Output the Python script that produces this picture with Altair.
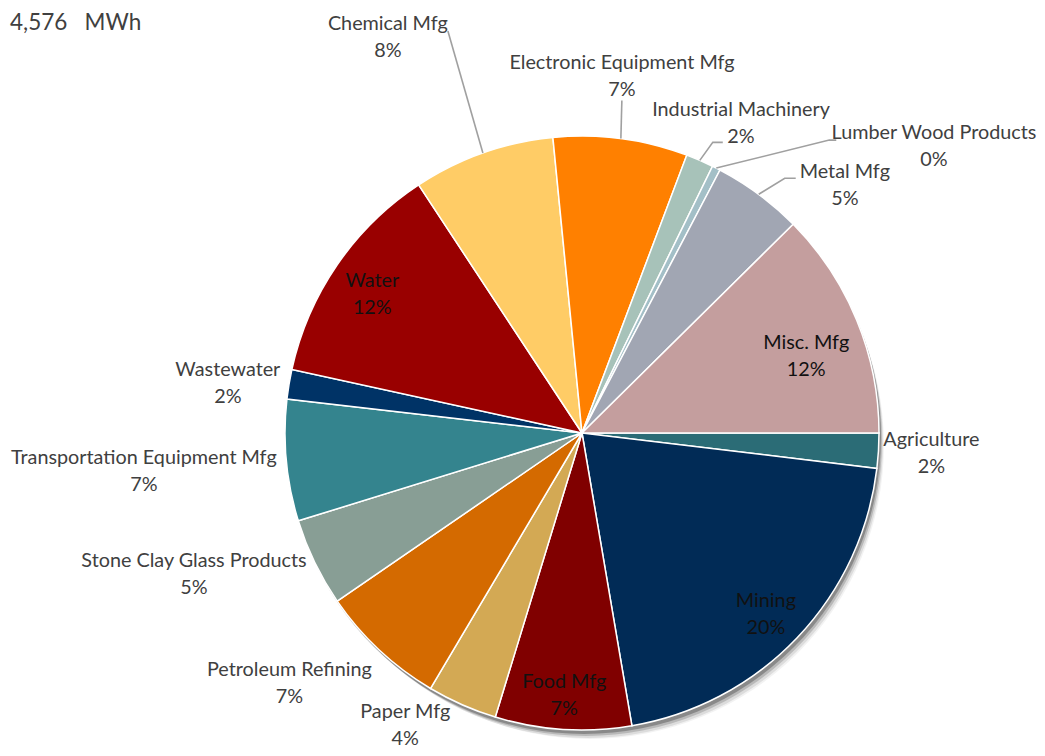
import math
import altair as alt
import pandas as pd

# ---------------- data ----------------
categories = [
    "Agriculture", "Mining", "Food Mfg", "Paper Mfg", "Petroleum Refining",
    "Stone Clay Glass Products", "Transportation Equipment Mfg", "Wastewater",
    "Water", "Chemical Mfg", "Electronic Equipment Mfg", "Industrial Machinery",
    "Lumber Wood Products", "Metal Mfg", "Misc. Mfg",
]
shares = [1.9, 20.4, 7.4, 3.8, 6.9, 4.8, 6.6, 1.6, 12.3, 7.7, 7.3, 1.5, 0.45, 4.9, 12.4]
pct_labels = ["2%", "20%", "7%", "4%", "7%", "5%", "7%", "2%", "12%", "8%", "7%", "2%", "0%", "5%", "12%"]
slice_colors = [
    "#2B6C76", "#012B56", "#800000", "#D3A954", "#D46A00",
    "#889E95", "#34848E", "#003366", "#990000", "#FFCC66",
    "#FF8000", "#A7C2B9", "#A3BFC7", "#A1A6B3", "#C49E9E",
]
title_text = "4,576\u00a0\u00a0\u00a0MWh"

# ---------------- layout / style ----------------
FONT = "Lato"
W, H = 900, 620
PAD = {"left": 124, "top": 115, "right": 5, "bottom": 5}
CX, CY = W / 2, H / 2
R = 297
total = sum(shares)
SHIFT = -13  # multi-line block: move up so the two lines straddle the anchor

# label placement: radius along the slice's mid angle, plus small nudges
label_style = {
    "Agriculture": (350, 0, -1),
    "Mining": (258, -3, 3),
    "Food Mfg": (263, -1, 0),
    "Paper Mfg": (346, -37, -25),
    "Petroleum Refining": (383, -31, -30),
    "Stone Clay Glass Products": (410, -19, -38),
    "Transportation Equipment Mfg": (440, 0, -3),
    "Wastewater": (357, -2, 9),
    "Water": (252, -2, 4),
    "Chemical Mfg": (438, -48, 17),
    "Electronic Equipment Mfg": (359, -7, -1),
    "Industrial Machinery": (348, 21, 9),
    "Lumber Wood Products": (418, 163, 86),
    "Metal Mfg": (356, 51, 38),
    "Misc. Mfg": (237, 5, 13),
}
inside = {"Mining", "Food Mfg", "Water", "Misc. Mfg"}
# leader lines: elbow offset from slice edge, then horizontal run
leaders = {
    "Chemical Mfg": (-35, -122, 0),
    "Electronic Equipment Mfg": (1, -38, 0),
    "Industrial Machinery": (13, -18, 10),
    "Lumber Wood Products": (113, -28, 7),
    "Metal Mfg": (26, -16, 11),
}

df = pd.DataFrame({
    "idx": list(range(len(categories))),
    "cat": categories,
    "share": shares,
    "label": [f"{c}\n{p}" for c, p in zip(categories, pct_labels)],
})

theta_scale = alt.Scale(domain=[0, total], range=[math.pi / 2, math.pi / 2 + 2 * math.pi])
theta_enc = alt.Theta("share:Q", stack=True, scale=theta_scale)
order_enc = alt.Order("idx:Q", sort="ascending")

# shadow (offset soft gray discs)
shadow_df = pd.DataFrame({"share": [total]})
shadows = []
for ox, oy, op, rr in [(2, 4, 0.25, R), (4, 7, 0.16, R - 1), (6, 10, 0.09, R - 2), (8, 12, 0.05, R - 3)]:
    shadows.append(
        alt.Chart(shadow_df).mark_arc(radius=rr, color="#000000", opacity=op)
        .encode(theta=theta_enc, x=alt.value(CX + ox), y=alt.value(CY + oy))
    )

arcs = alt.Chart(df).mark_arc(radius=R, stroke="white", strokeWidth=1.5).encode(
    theta=theta_enc,
    order=order_enc,
    color=alt.Color("cat:N", scale=alt.Scale(domain=categories, range=slice_colors), legend=None),
)

# leader line geometry derived from the slices' mid angles
rows = []
cum = 0.0
for cat, v in zip(categories, shares):
    mid = math.pi / 2 + 2 * math.pi * (cum + v / 2) / total
    cum += v
    if cat in leaders:
        ex, ey, hrun = leaders[cat]
        x0 = CX + R * math.sin(mid)
        y0 = CY - R * math.cos(mid)
        pts = [(x0, y0), (x0 + ex, y0 + ey)]
        if hrun:
            pts.append((x0 + ex + hrun, y0 + ey))
        for k, (px, py) in enumerate(pts):
            rows.append({"cat": cat, "k": k, "px": px, "py": py})
lead_df = pd.DataFrame(rows)

lead = alt.Chart(lead_df).mark_line(color="#A0A0A0", strokeWidth=1.6).encode(
    x=alt.X("px:Q", scale=None, axis=None),
    y=alt.Y("py:Q", scale=None, axis=None),
    detail="cat:N",
    order="k:Q",
)

texts = []
for i, cat in enumerate(categories):
    r, dx, dy = label_style[cat]
    texts.append(
        alt.Chart(df)
        .transform_calculate(t=f"datum.idx == {i} ? datum.label : ''")
        .mark_text(
            radius=r, dx=dx, dy=dy + SHIFT, align="center", baseline="middle",
            lineBreak="\n", lineHeight=27, font=FONT, fontSize=19.8,
            color="#111111" if cat in inside else "#404040",
        )
        .encode(theta=theta_enc, order=order_enc, text="t:N")
    )

title = alt.Chart(pd.DataFrame({"t": [title_text]})).mark_text(
    align="left", baseline="alphabetic", fontSize=22.5, font=FONT, color="#404040"
).encode(text="t:N", x=alt.value(-122), y=alt.value(-93))

chart = alt.layer(*shadows, arcs, lead, *texts, title).properties(
    width=W, height=H, padding=PAD,
    autosize=alt.AutoSizeParams(type="none"),
    background="white",
).configure_view(stroke=None)

chart.save("out.html", embed_options={"renderer": "svg", "actions": False})
